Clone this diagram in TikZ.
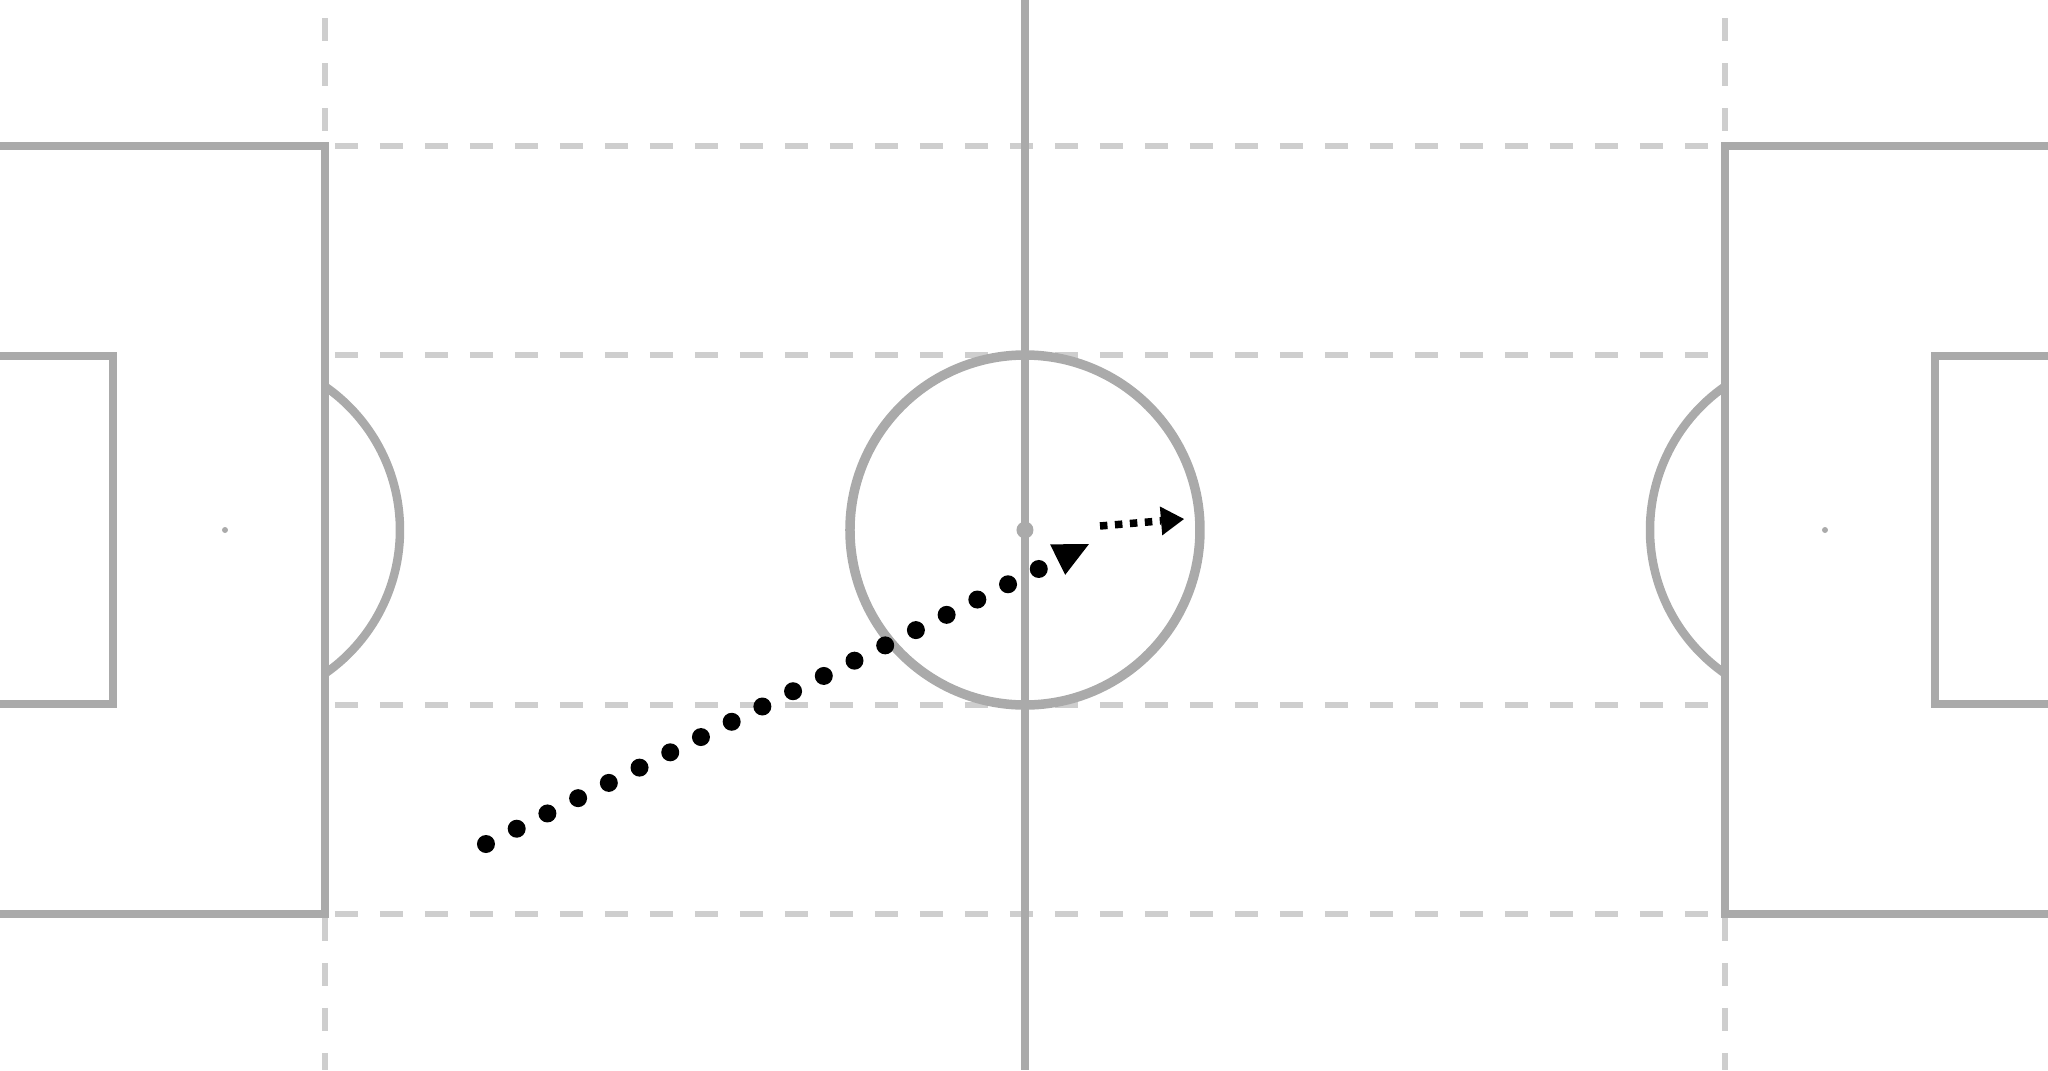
\documentclass[tikz,border=0pt]{standalone}
\usepackage{tikz}
\usetikzlibrary{arrows.meta}
\definecolor{lineGrey}{RGB}{170,170,170}
\definecolor{guideGrey}{RGB}{206,206,206}

\begin{document}
\begin{tikzpicture}[>=Stealth,
    pitch/.style={lineGrey, line width=0.085cm},
    guide/.style={guideGrey, line width=0.055cm, dash pattern=on 0.23cm off 0.22cm},
    pass/.style={black, line width=0.18cm, line cap=round, dash pattern=on 0pt off 0.343cm},
    carry/.style={black, line width=0.075cm, dash pattern=on 0.075cm off 0.075cm}]
    \useasboundingbox (-10.25,-5.40) rectangle (10.23,5.30);
    % Guide lines
    \foreach \x in {-7,7}{
      \draw[guide] (\x,5.12) -- (\x,-5.40);
    }
    \foreach \y in {3.84,1.75,-1.75,-3.84}{
      \draw[guide] (-6.9,\y) -- (6.9,\y);
    }
    % Halfway line and centre circle
    \draw[pitch] (0,5.30) -- (0,-5.40);
    \draw[pitch, line width=0.095cm] (0,0) circle (1.75);
    \fill[lineGrey] (0,0) circle (0.085);
    % Penalty areas
    \draw[pitch] (-10.3,3.84) -- (-7,3.84) -- (-7,-3.84) -- (-10.3,-3.84);
    \draw[pitch] (10.3,3.84) -- (7,3.84) -- (7,-3.84) -- (10.3,-3.84);
    % Goal areas
    \draw[pitch] (-10.3,1.74) -- (-9.12,1.74) -- (-9.12,-1.74) -- (-10.3,-1.74);
    \draw[pitch] (10.3,1.74) -- (9.10,1.74) -- (9.10,-1.74) -- (10.3,-1.74);
    % Penalty spots and arcs
    \fill[lineGrey] (-8,0) circle (0.03);
    \fill[lineGrey] (8,0) circle (0.03);
    \draw[pitch] (-7,-1.436) arc[start angle=-55.15, end angle=55.15, radius=1.75];
    \draw[pitch] (7,1.436) arc[start angle=124.85, end angle=235.15, radius=1.75];
    % Pass and carry
    \coordinate (passstart) at (-5.39,-3.14);
    \coordinate (passend) at (0.64,-0.14);
    \coordinate (carrystart) at (0.75,0.04);
    \coordinate (carryend) at (1.59,0.11);
    \draw[pass, -{Triangle[length=0.35cm, width=0.34cm, line width=0pt]}] (passstart) -- (passend);
    \draw[carry, -{Triangle[length=0.23cm, width=0.29cm, line width=0pt]}] (carrystart) -- (carryend);
\end{tikzpicture}
\end{document}
